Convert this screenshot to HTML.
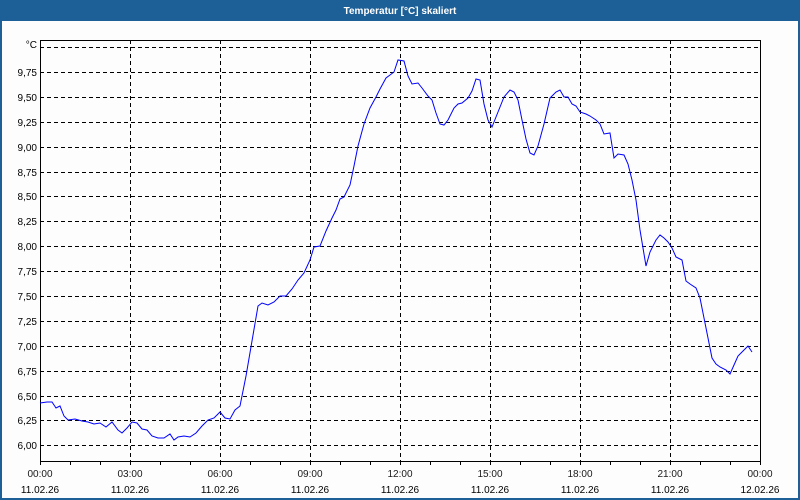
<!DOCTYPE html>
<html><head><meta charset="utf-8"><style>
html,body{margin:0;padding:0;width:800px;height:500px;overflow:hidden;background:#fcfdfc}
svg{display:block}
text{font-family:"Liberation Sans",sans-serif;font-size:10px}
</style></head><body>
<svg width="800" height="500" xmlns="http://www.w3.org/2000/svg">
<rect x="0" y="0" width="800" height="500" fill="#1d5f97"/>
<rect x="2" y="21" width="796" height="477" fill="#fcfdfc"/>
<text x="400" y="14" fill="#fff" font-weight="bold" text-anchor="middle">Temperatur [°C] skaliert</text>
<g stroke="#000" stroke-dasharray="4,3" stroke-width="1">
<line x1="40" y1="47.5" x2="760" y2="47.5"/>
<line x1="40" y1="72.5" x2="760" y2="72.5"/>
<line x1="40" y1="97.5" x2="760" y2="97.5"/>
<line x1="40" y1="122.5" x2="760" y2="122.5"/>
<line x1="40" y1="147.5" x2="760" y2="147.5"/>
<line x1="40" y1="172.5" x2="760" y2="172.5"/>
<line x1="40" y1="196.5" x2="760" y2="196.5"/>
<line x1="40" y1="221.5" x2="760" y2="221.5"/>
<line x1="40" y1="246.5" x2="760" y2="246.5"/>
<line x1="40" y1="271.5" x2="760" y2="271.5"/>
<line x1="40" y1="296.5" x2="760" y2="296.5"/>
<line x1="40" y1="321.5" x2="760" y2="321.5"/>
<line x1="40" y1="346.5" x2="760" y2="346.5"/>
<line x1="40" y1="371.5" x2="760" y2="371.5"/>
<line x1="40" y1="396.5" x2="760" y2="396.5"/>
<line x1="40" y1="420.5" x2="760" y2="420.5"/>
<line x1="40" y1="445.5" x2="760" y2="445.5"/>
<line x1="130.5" y1="40" x2="130.5" y2="461"/>
<line x1="220.5" y1="40" x2="220.5" y2="461"/>
<line x1="310.5" y1="40" x2="310.5" y2="461"/>
<line x1="400.5" y1="40" x2="400.5" y2="461"/>
<line x1="490.5" y1="40" x2="490.5" y2="461"/>
<line x1="580.5" y1="40" x2="580.5" y2="461"/>
<line x1="670.5" y1="40" x2="670.5" y2="461"/>
</g>
<rect x="40.5" y="40.5" width="720" height="421" fill="none" stroke="#000"/>
<g stroke="#000">
<line x1="70.5" y1="461" x2="70.5" y2="465"/><line x1="100.5" y1="461" x2="100.5" y2="465"/>
<line x1="160.5" y1="461" x2="160.5" y2="465"/><line x1="190.5" y1="461" x2="190.5" y2="465"/>
<line x1="250.5" y1="461" x2="250.5" y2="465"/><line x1="280.5" y1="461" x2="280.5" y2="465"/>
<line x1="340.5" y1="461" x2="340.5" y2="465"/><line x1="370.5" y1="461" x2="370.5" y2="465"/>
<line x1="430.5" y1="461" x2="430.5" y2="465"/><line x1="460.5" y1="461" x2="460.5" y2="465"/>
<line x1="520.5" y1="461" x2="520.5" y2="465"/><line x1="550.5" y1="461" x2="550.5" y2="465"/>
<line x1="610.5" y1="461" x2="610.5" y2="465"/><line x1="640.5" y1="461" x2="640.5" y2="465"/>
<line x1="700.5" y1="461" x2="700.5" y2="465"/><line x1="730.5" y1="461" x2="730.5" y2="465"/>
<line x1="40.5" y1="461" x2="40.5" y2="465"/><line x1="130.5" y1="461" x2="130.5" y2="465"/>
<line x1="220.5" y1="461" x2="220.5" y2="465"/><line x1="310.5" y1="461" x2="310.5" y2="465"/>
<line x1="400.5" y1="461" x2="400.5" y2="465"/><line x1="490.5" y1="461" x2="490.5" y2="465"/>
<line x1="580.5" y1="461" x2="580.5" y2="465"/><line x1="670.5" y1="461" x2="670.5" y2="465"/>
<line x1="760.5" y1="461" x2="760.5" y2="465"/>
</g>
<g fill="#000" text-anchor="end">
<text x="37" y="48">°C</text>
<text x="37" y="76">9,75</text><text x="37" y="101">9,50</text><text x="37" y="126">9,25</text>
<text x="37" y="151">9,00</text><text x="37" y="176">8,75</text><text x="37" y="200">8,50</text>
<text x="37" y="225">8,25</text><text x="37" y="250">8,00</text><text x="37" y="275">7,75</text>
<text x="37" y="300">7,50</text><text x="37" y="325">7,25</text><text x="37" y="350">7,00</text>
<text x="37" y="375">6,75</text><text x="37" y="400">6,50</text><text x="37" y="424">6,25</text>
<text x="37" y="449">6,00</text>
</g>
<g text-anchor="middle">
<g fill="#1a1a1a">
<text x="40" y="477">00:00</text><text x="130" y="477">03:00</text><text x="220" y="477">06:00</text>
<text x="310" y="477">09:00</text><text x="400" y="477">12:00</text><text x="490" y="477">15:00</text>
<text x="580" y="477">18:00</text><text x="670" y="477">21:00</text><text x="760" y="477">00:00</text>
</g>
<g fill="#000">
<text x="40" y="493">11.02.26</text><text x="130" y="493">11.02.26</text><text x="220" y="493">11.02.26</text>
<text x="310" y="493">11.02.26</text><text x="400" y="493">11.02.26</text><text x="490" y="493">11.02.26</text>
<text x="580" y="493">11.02.26</text><text x="670" y="493">11.02.26</text><text x="760" y="493">12.02.26</text>
</g>
</g>
<polyline fill="none" stroke="#0000ff" stroke-width="1" points="40,403 47,402 52,402 56,408 60,406 64,416 68,420 75,419 82,421 88,422 94,424 100,423 106,427 112,422 118,430 122,433 127,428 132,422 137,423 142,429 147,430 152,436 158,438 164,438 170,434 174,440 178,437 184,436 190,437 196,433 202,426 208,420 214,418 220,412 225,418 230,419 235,410 240,406 246,376 252,341 258,306 262,303 268,305 274,302 280,296 286,296 292,289 298,280 304,273 310,260 314,247 320,246 326,231 332,218 336,210 340,199 344,197 350,185 354,166 358,146 364,124 370,108 376,97 380,89 386,78 390,75 394,72 398,60 404,61 408,76 412,84 418,83 422,88 428,96 432,100 436,113 440,124 444,125 448,120 454,108 458,104 462,103 468,98 472,91 476,79 480,80 484,104 488,120 492,127 498,112 504,97 510,90 514,92 518,100 522,120 526,139 530,153 534,155 538,146 544,124 550,98 556,92 560,90 564,97 568,97 572,104 576,106 580,112 586,114 590,116 596,120 600,124 604,134 610,133 614,158 618,154 624,155 628,164 632,180 636,200 640,230 646,266 650,252 656,240 660,235 664,238 668,242 672,248 676,257 682,260 686,281 690,284 696,288 700,298 704,318 708,338 712,358 716,364 720,367 726,370 730,374 734,365 738,356 744,350 748,346 752,352"/>
</svg>
</body></html>
